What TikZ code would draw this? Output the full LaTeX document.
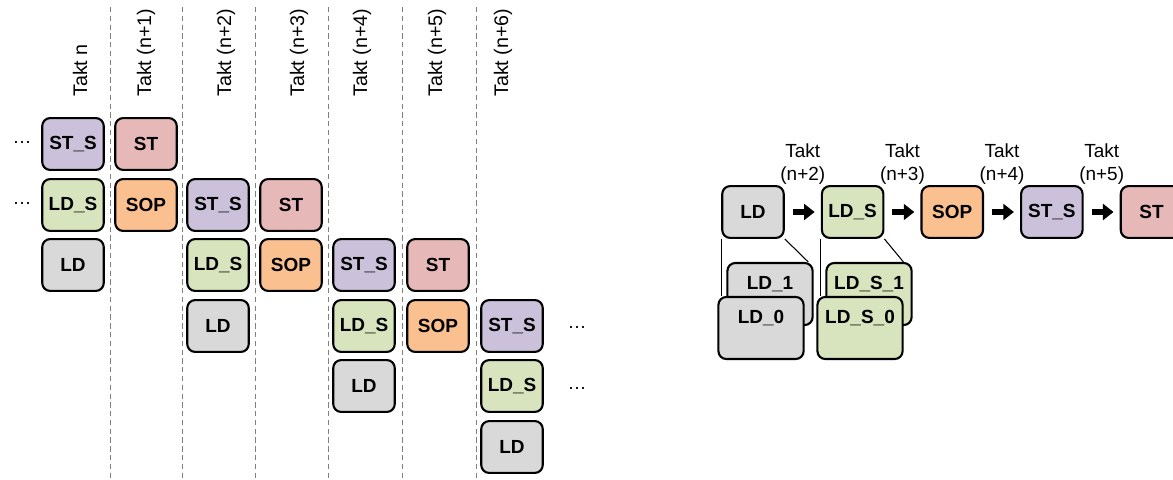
\documentclass[tikz,border=0pt]{standalone}
\usepackage{fontspec}
\setmainfont{Liberation Sans}
\usetikzlibrary{positioning,arrows.meta,backgrounds}

\definecolor{ldgray}{HTML}{D9D9D9}
\definecolor{ldsgreen}{HTML}{D7E4BD}
\definecolor{soporange}{HTML}{FAC090}
\definecolor{stspurple}{HTML}{CCC1DA}
\definecolor{stred}{HTML}{E6B9B8}

\begin{document}
\begin{tikzpicture}[
    x=0.02cm, y=-0.02cm,
    font=\fontsize{10.8}{13}\selectfont,
    stage/.style={rectangle, draw, line width=1.2pt, rounded corners=4.5pt,
        minimum width=35pt, minimum height=29.5pt, inner sep=0pt,
        font=\fontsize{10.8}{13}\selectfont\bfseries},
    ld/.style={stage, fill=ldgray},
    lds/.style={stage, fill=ldsgreen},
    sop/.style={stage, fill=soporange},
    sts/.style={stage, fill=stspurple},
    st/.style={stage, fill=stred},
    bank/.style={rectangle, draw, line width=1.2pt, rounded corners=4.5pt,
        minimum width=48.5pt, text height=15pt, text depth=20.3pt, inner ysep=0pt,
        font=\fontsize{10.8}{13}\selectfont\bfseries},
    takt/.style={rotate=90, anchor=west, inner sep=0pt,
        font=\fontsize{11.2}{13}\selectfont},
    separator/.style={draw=gray, densely dashed, line width=0.5pt},
    flow/.style={draw, line width=3pt, -{Triangle[length=6pt,width=9pt]},
        shorten <=4.5pt, shorten >=3.5pt},
    node distance=20.5pt
]
\useasboundingbox (0,0) rectangle (1173,480);

% clock columns
\draw [separator] (110,7) -- (110,480);
\draw [separator] (182,7) -- (182,480);
\draw [separator] (255,7) -- (255,480);
\draw [separator] (328,7) -- (328,480);
\draw [separator] (402,7) -- (402,480);
\draw [separator] (476,7) -- (476,480);

\node (TaktN)  [takt] at (80,97)  {Takt n};
\node (TaktN1) [takt] at (146,97) {Takt (n+1)};
\node (TaktN2) [takt] at (226,97) {Takt (n+2)};
\node (TaktN3) [takt] at (299,97) {Takt (n+3)};
\node (TaktN4) [takt] at (362,97) {Takt (n+4)};
\node (TaktN5) [takt] at (437,97) {Takt (n+5)};
\node (TaktN6) [takt] at (503,97) {Takt (n+6)};

% pipeline over the clocks
\node (DotsA) at (22,142) {\dots};
\node (DotsB) at (22,203) {\dots};
\node (StSn) [sts] at (73,144) {ST\_S};
\node (LdSn) [lds] at (73,205) {LD\_S};
\node (Ldn)  [ld]  at (73,265) {LD};

\node (Stn1)  [st]  at (146,144) {ST};
\node (Sopn1) [sop] at (146,205) {SOP};

\node (StSn2) [sts] at (218,205) {ST\_S};
\node (LdSn2) [lds] at (218,265) {LD\_S};
\node (Ldn2)  [ld]  at (218,326) {LD};

\node (Stn3)  [st]  at (291,205) {ST};
\node (Sopn3) [sop] at (291,265) {SOP};

\node (StSn4) [sts] at (364,265) {ST\_S};
\node (LdSn4) [lds] at (364,326) {LD\_S};
\node (Ldn4)  [ld]  at (364,386) {LD};

\node (Stn5)  [st]  at (438,265) {ST};
\node (Sopn5) [sop] at (438,326) {SOP};

\node (StSn6) [sts] at (512,326) {ST\_S};
\node (LdSn6) [lds] at (512,386) {LD\_S};
\node (Ldn6)  [ld]  at (512,447) {LD};
\node (DotsC) at (577,327) {\dots};
\node (DotsD) at (577,388) {\dots};

% stage chain
\node (Ld)  [ld] at (753,212) {LD};
\node (LdS) [lds, right=of Ld]  {LD\_S};
\node (Sop) [sop, right=of LdS] {SOP};
\node (StS) [sts, right=of Sop] {ST\_S};
\node (St)  [st, right=of StS]  {ST};

\draw [flow] (Ld) -- node (Takt2) [above=11pt, align=center] {Takt\\(n+2)} (LdS);
\draw [flow] (LdS) -- node (Takt3) [above=11pt, align=center] {Takt\\(n+3)} (Sop);
\draw [flow] (Sop) -- node (Takt4) [above=11pt, align=center] {Takt\\(n+4)} (StS);
\draw [flow] (StS) -- node (Takt5) [above=11pt, align=center] {Takt\\(n+5)} (St);

% register banks
\node (Ld1)  [bank, fill=ldgray]   at (770,294) {LD\_1};
\node (Ld0)  [bank, fill=ldgray]   at (761,328) {LD\_0};
\node (LdS1) [bank, fill=ldsgreen] at (869,294) {LD\_S\_1};
\node (LdS0) [bank, fill=ldsgreen] at (860,328) {LD\_S\_0};

\begin{scope}[on background layer]
  \draw [line width=0.6pt] (Ld.south west) -- (Ld.south west |- Ld0.north);
  \draw [line width=0.6pt] (Ld.south east) -- (Ld1.40);
  \draw [line width=0.6pt] (LdS.south west) -- (LdS.south west |- LdS0.north);
  \draw [line width=0.6pt] (LdS.south east) -- (LdS1.43);
\end{scope}
\end{tikzpicture}
\end{document}
